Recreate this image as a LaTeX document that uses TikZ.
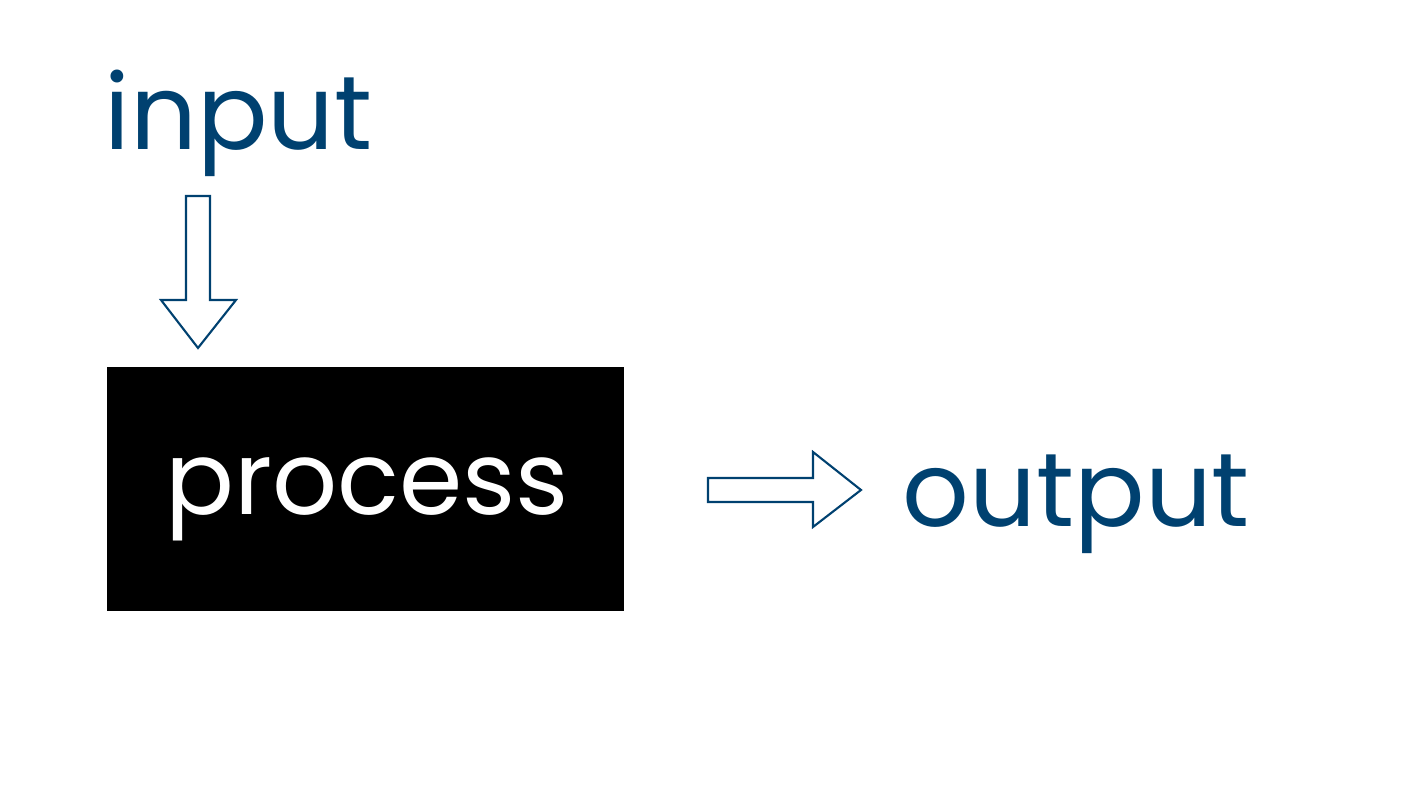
\documentclass[tikz,border=0pt]{standalone}
\usepackage{fontspec}
\setmainfont{Poppins}
\usetikzlibrary{positioning}
\definecolor{inkblue}{RGB}{0,65,112}

\begin{document}
\begin{tikzpicture}[x=0.01cm,y=-0.01cm,
	word/.style={inner sep=0pt,anchor=base west,text=inkblue,font=\fontsize{29.7}{36}\selectfont},
	procbox/.style={fill=black,inner sep=0pt,minimum width=5.17cm,minimum height=2.44cm},
	boxtext/.style={inner sep=0pt,anchor=base,text=white,font=\fontsize{29}{35}\selectfont},
	blockarrow/.style={draw=inkblue,line width=0.6pt,fill=white,line join=miter}]
	
	\useasboundingbox (0,0) rectangle (1423,786);
	
	\node[word] (in) at (104,150) {input};
	\node[procbox] (proc) at (365.5,489) {};
	\node[boxtext] (proclbl) at (367,515) {process};
	\node[word] (out) at (902,527) {output};
	
	% arrow from input down to the box
	\draw[blockarrow] (186,196) -- (210,196) -- (210,300) -- (236,300)
	-- (198,348) -- (161,300) -- (186,300) -- cycle;
	% arrow from the box across to output
	\draw[blockarrow] (708,478) -- (813,478) -- (813,452) -- (861,490)
	-- (813,527) -- (813,502) -- (708,502) -- cycle;
\end{tikzpicture}
\end{document}
